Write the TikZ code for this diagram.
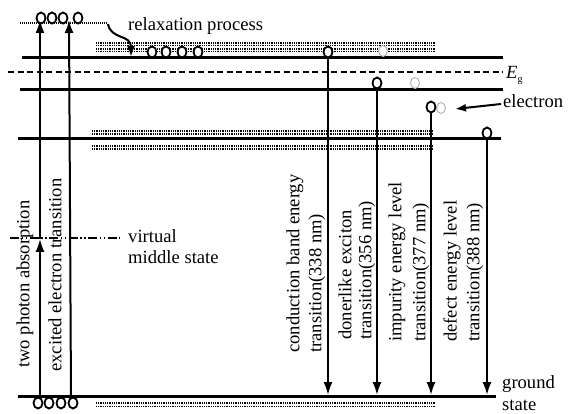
\documentclass[tikz,border=0pt]{standalone}
\usepackage{fontspec}
\setmainfont{Liberation Serif}
\usetikzlibrary{arrows.meta,shapes.geometric}
\tikzset{
  lvl/.style={line width=3pt},
  egline/.style={line width=2.2pt, dash pattern=on 6pt off 3.5pt},
  band/.style={line width=1.3pt, dash pattern=on 1pt off 0.8pt},
  vline/.style={line width=2pt},
  arr/.style={vline, -{Latex[length=13pt,width=9pt]}},
  elec/.style={draw, ellipse, line width=1.8pt, fill=white, inner sep=0pt, minimum width=9pt, minimum height=11pt},
  gelec/.style={elec, draw=gray!55, line width=1.1pt},
  txt/.style={font=\fontsize{18.6}{22}\selectfont, inner sep=0pt},
  rot/.style={txt, rotate=90, anchor=west},
}
\begin{document}
\begin{tikzpicture}[x=1pt,y=-1pt]
\useasboundingbox (0,0) rectangle (581,414);

% dotted bands
\foreach \y in {43,45.5,49,51.5} \draw[band] (96,\y) -- (436,\y);
\foreach \y in {131,134,146,149} \draw[band] (92,\y) -- (433,\y);
\foreach \y in {403,406.5} \draw[band] (96,\y) -- (436,\y);
\draw[line width=1.1pt, dash pattern=on 1pt off 1pt] (20,23) -- (107,23);

% energy levels
\draw[lvl] (22,58) -- (503,58);
\draw[egline] (8,72) -- (503,72);
\draw[lvl] (20,89.5) -- (503,89.5);
\draw[lvl] (18,139) -- (501,139);
\draw[lvl] (18,396) -- (496,396);

% virtual middle state
\node[txt, anchor=base west] (vt) at (128,243) {virtual};
\node[txt, anchor=base west] (ms) at (128,263) {middle state};
\coordinate (vl) at (10,238);
\coordinate (vr) at (120,238);
\draw[line width=1.5pt, dash pattern=on 9pt off 2.5pt on 1.5pt off 2.5pt on 1.5pt off 2.5pt] (vl) -- (vr);

% up arrows (absorption)
\coordinate (a1b) at (40,398);
\coordinate (a1m) at (40,239);
\coordinate (a1t) at (40,20);
\coordinate (a2b) at (71,398);
\coordinate (a2t) at (69,20);
\draw[arr] (a1b) -- (a1m);
\draw[arr] (a1m) -- (a1t);
\draw[arr] (a2b) -- (a2t);

% electrons top and bottom
\node[elec] (t1) at (41,18) {};
\node[elec] (t2) at (52,18) {};
\node[elec] (t3) at (63,18) {};
\node[elec] (t4) at (78,18) {};
\node[elec] (b1) at (38,403) {};
\node[elec] (b2) at (49,403) {};
\node[elec] (b3) at (61,403) {};
\node[elec] (b4) at (73,403) {};

% relaxation
\node[txt, anchor=base west] (rp) at (128,30.5) {relaxation process};
\coordinate (rs) at (108,24);
\coordinate (re) at (131,57);
\draw[vline, -{Latex[length=11pt,width=8pt]}] (rs) .. controls (111,40) and (131,34) .. (re);
\node[elec] (r1) at (152,52) {};
\node[elec] (r2) at (166,52) {};
\node[elec] (r3) at (182,52) {};
\node[elec] (r4) at (198,52) {};

% gray electrons
\node[gelec] (g1) at (383,51) {};
\node[gelec] (g2) at (415,83) {};
\node[gelec] (g3) at (441,108) {};

% emitting electrons and transitions
\node[elec] (c1) at (328,52) {};
\node[elec] (c2) at (377,83) {};
\node[elec] (c3) at (431,107) {};
\node[elec] (c4) at (487,133) {};
\coordinate (d1) at (328,395);
\coordinate (d2) at (377,395);
\coordinate (d3) at (431,395);
\coordinate (d4) at (487,395);
\draw[arr] (c1.south) -- (d1);
\draw[arr] (c2.south) -- (d2);
\draw[arr] (c3.south) -- (d3);
\draw[arr] (c4.south) -- (d4);

% rotated labels
\node[rot] (tpa) at (25,368) {two photon absorption};
\node[rot] (eet) at (55,372) {excited electron transition};
\node[rot] (cb1) at (295,353) {conduction band energy};
\node[rot] (cb2) at (317,353) {transition(338 nm)};
\node[rot] (dx1) at (345,340) {donerlike exciton};
\node[rot] (dx2) at (367,340) {transition(356 nm)};
\node[rot] (im1) at (397,342) {impurity energy level};
\node[rot] (im2) at (421,342) {transition(377 nm)};
\node[rot] (df1) at (452,342) {defect energy level};
\node[rot] (df2) at (475,342) {transition(388 nm)};

% right labels
\node[txt, anchor=base west] (eg) at (506,79) {\itshape E\/\raisebox{-4pt}{\upshape\fontsize{10}{10}\selectfont g}};
\node[txt, anchor=base west] (el) at (503,108) {electron};
\coordinate (et) at (455,109);
\draw[vline, -{Latex[length=11pt,width=8pt]}] (501,104) -- (et);
\node[txt, anchor=base west] (gr) at (502,388) {ground};
\node[txt, anchor=base west] (st) at (502,410) {state};
\end{tikzpicture}
\end{document}
